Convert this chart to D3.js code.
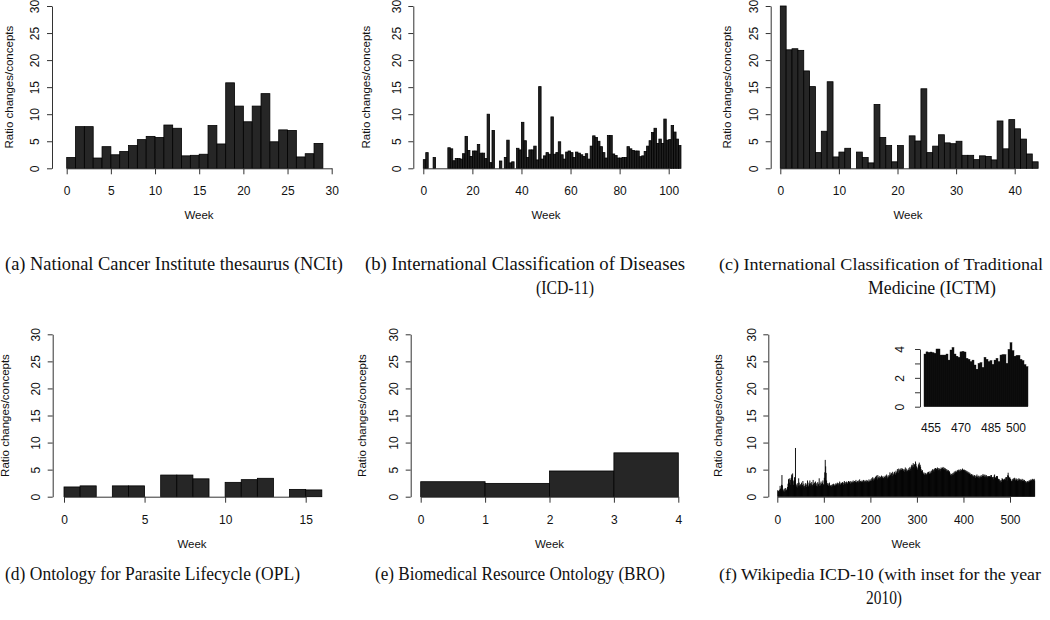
<!DOCTYPE html>
<html><head><meta charset="utf-8">
<script src="https://cdn.jsdelivr.net/npm/d3@7"></script>
<style>body{margin:0;background:#fff} svg{display:block}</style>
</head><body>
<svg id="c" width="1050" height="620"></svg>
<script>
// ---------- DATA ----------
const ncitValues = [2.0,7.7,7.7,1.9,4.0,2.5,3.1,4.2,5.3,5.9,5.7,8.0,7.4,2.3,2.4,2.6,7.9,4.5,15.8,11.5,8.6,11.5,13.8,4.9,7.1,7.0,2.1,2.7,4.6];
const icd11Values = [1.6,2.9,0,0,2.0,0,0,0,0,0,
  3.8,3.6,1.4,1.8,1.8,1.7,2.7,5.9,3.3,2.2,
  3.2,3.2,4.4,2.8,2.8,1.8,10.0,1.05,7.0,0,
  0,1.35,0,2.0,5.2,1.0,1.2,0,3.7,3.4,
  8.5,5.1,2.0,3.4,3.4,4.1,1.55,15.1,1.7,2.3,
  2.9,2.6,9.5,2.6,2.9,4.9,2.5,1.7,3.0,3.2,
  2.9,2.0,3.0,2.8,2.5,2.2,2.7,1.7,4.1,6.0,
  5.7,5.0,4.0,2.9,1.9,6.05,6.05,2.65,2.35,1.9,
  1.9,2.0,2.0,4.0,3.6,3.3,3.2,3.2,2.15,2.3,
  3.1,4.1,5.1,6.6,7.4,4.6,5.4,4.6,9.1,5.2,
  5.3,7.9,6.7,5.4,4.2];
const ictmValues = [30.0,21.9,22.1,21.8,18.0,15.1,2.9,6.85,16.0,2.1,
  3.0,3.7,0,3.0,2.0,1.0,11.8,5.7,4.2,1.2,
  4.2,0,6.0,5.05,14.7,2.9,4.1,6.2,4.7,4.55,
  5.0,2.4,2.4,1.6,2.3,2.2,1.55,8.75,3.6,9.0,
  7.3,5.4,2.65,1.2];
const oplValues = [1.8,2.0,0,2.0,2.0,0,4.0,4.0,3.3,0,2.65,3.15,3.4,0,1.35,1.25];
const broValues = [2.77,2.46,4.75,8.1];
const insetWeeks = d3.range(452, 504);
const insetValues = [3.65,3.8,3.76,3.79,3.74,3.7,4.0,4.0,3.58,3.58,
  3.58,3.65,3.23,3.93,4.1,3.65,3.5,3.42,3.8,3.83,
  3.79,3.35,3.28,3.12,3.23,2.89,2.6,3.0,3.05,2.72,
  3.42,3.28,3.12,3.19,2.93,3.23,3.35,3.12,3.58,3.6,
  3.6,3.0,3.97,4.43,3.88,3.5,3.55,3.55,3.28,3.19,
  2.91,2.77];
const wikiHead = [
  1.2,1.0,1.1,0.9,1.3,2.0,1.5,1.1,2.2,4.0,
  2.1,1.4,1.0,1.2,1.5,0.9,1.1,1.6,1.3,1.2,
  1.5,1.8,2.4,3.2,3.3,2.6,3.4,3.1,2.2,3.5,
  4.1,3.9,4.3,3.0,2.2,2.8,3.6,3.1,9.0,2.4,
  1.9,2.2,1.7,2.5,2.0,3.4,2.6,2.1,1.8,2.3,
  2.0,2.6,1.6,2.2,2.9,1.9,2.4,2.0,1.7,2.1,
  2.5,2.2,1.8,2.4,3.0,2.1,1.9,2.6,2.3,3.0,
  2.5,2.0,2.3,2.7,1.9,2.2,3.1,2.4,2.0,2.6,
  2.1,2.8,2.3,2.0,2.5,1.9,2.7,2.2,2.4,3.4,
  2.0,2.5,2.1,2.8,2.4,2.0,2.6,3.0,2.3,2.2,
  3.5,4.5,6.8,5.6,4.4,3.0,2.5,2.2,2.5,2.0,
  2.3,2.6,1.9,2.1,2.0,2.2,1.8,2.0,2.3,2.1,
  2.4,2.2,2.0,2.3,2.1,2.5,2.3,2.2,2.6,2.4,
  2.1,2.5,2.3,2.8,2.4,2.2,2.6,2.5,2.3,2.7,
  2.5,2.2,2.6,2.9,2.4,2.7,2.3,2.5,2.8,2.6,
  2.4,2.7,2.9,2.5,2.8,2.6,2.4,2.9,2.7,2.5,
  2.8,2.6,3.0,2.7,2.5,2.9,2.6,2.8,3.1,2.7,
  2.5,2.9,2.7,3.0,2.6,2.8,3.2,2.7,2.9,2.6,
  2.8,3.0,2.7,2.9,3.1,2.6,2.8,3.0,2.7,2.9,
  3.1,2.8,2.6,3.0,2.9,2.7,3.2,2.8,3.0,2.9,
  3.2,2.9,3.4,3.1,3.6,3.3,3.0,3.5,3.2,3.4,
  3.7,3.3,3.9,3.5,3.2,4.0,3.6,3.4,3.8,3.5,
  3.3,3.7,3.5,3.9,3.4,3.6,3.8,3.5,3.3,3.7,
  3.6,3.9,3.5,3.8,4.1,3.7,3.4,3.9,3.6,4.0,
  3.8,4.5,4.1,3.9,4.4,4.2,3.8,4.6,4.3,4.0,
  4.2,4.6,4.4,4.1,4.8,4.5,4.3,5.1,4.7,4.4,
  5.2,5.0,4.7,5.1,4.9,5.3,5.0,4.8,5.2,5.0,
  4.8,5.1,4.6,5.0,5.4,4.9,5.2,4.7,5.0,4.8,
  4.6,5.0,5.3,4.9,5.5,5.2,4.8,5.6,5.9,5.4,
  5.8,6.2,5.5,5.9,6.0,5.3,6.5,6.1,5.6,5.2,
  5.0,5.4,5.8,6.0,6.3,5.7,5.9,5.5,5.1,4.8,
  4.6,4.9,4.4,4.2,4.5,4.0,4.3,4.1,4.4,4.2,
  4.0,4.3,4.5,4.1,4.6,4.4,4.2,4.7,4.3,4.5,
  4.8,4.4,4.9,5.1,4.7,5.0,4.6,5.2,4.9,5.3,
  5.0,5.2,4.8,5.4,5.1,4.9,5.3,5.0,5.2,4.7,
  5.1,5.4,5.2,4.9,5.3,5.5,5.1,5.4,5.0,5.3,
  5.2,4.9,5.1,4.7,5.0,4.8,4.6,4.9,4.5,4.7,
  4.4,4.1,3.8,4.2,3.9,4.3,4.0,4.4,4.1,4.6,
  4.3,4.7,4.5,4.8,4.6,4.4,4.9,4.7,5.0,4.8,
  4.6,4.9,5.1,4.8,4.7,5.0,4.8,5.2,4.9,5.0,
  4.8,5.0,4.7,4.9,4.6,4.8,4.5,4.7,4.4,4.6,
  4.3,4.5,4.2,4.4,4.1,3.9,4.2,4.0,3.8,4.1,
  3.7,3.9,3.6,4.0,3.8,3.5,3.9,3.7,4.1,3.6,
  3.8,3.5,3.9,3.7,3.4,3.8,3.6,4.0,3.7,3.5,
  3.9,4.2,3.8,4.0,3.7,4.1,3.6,3.9,4.0,3.7,
  3.5,3.8];
const wikiTail = [3.0,3.3,3.1,3.4,3.2,3.5,
  3.2,3.0,3.4,3.1,3.3,2.9,3.2,3.0,3.4,3.1,
  3.3,3.0,3.2,2.8,3.1,3.3,2.9,3.2,3.0,2.8,
  3.1,2.7,2.9,2.6,2.8,2.5,2.7,2.9,2.6,2.8,
  3.0,2.8,3.1,2.9,3.2,3.0,3.1,3.3,3.0,3.2,
  3.1,3.3,3.0];
const wikiValues = wikiHead.concat(insetValues, wikiTail);

const yTicks = [0,5,10,15,20,25,30];
const insetYTicks = [0,1,2,3,4];
const insetLabels = [455,470,485,500];
const captions = [
  {lines:["(a) National Cancer Institute thesaurus (NCIt)"]},
  {lines:["(b) International Classification of Diseases","(ICD-11)"]},
  {lines:["(c) International Classification of Traditional","Medicine (ICTM)"]},
  {lines:["(d) Ontology for Parasite Lifecycle (OPL)"]},
  {lines:["(e) Biomedical Resource Ontology (BRO)"]},
  {lines:["(f) Wikipedia ICD-10 (with inset for the year","2010)"]}
];

// ---------- LAYOUT ----------
const svg = d3.select("#c");
const SANS = "'Liberation Sans', Arial, Helvetica, sans-serif";
const SERIF = "'Liberation Serif', 'Times New Roman', serif";

const panels = [
  {vals:ncitValues, xd:[0,30], xr:[66.7,331.7], xt:d3.range(0,31,5), ax:52, row:0, ylab:9, fill:"#262626", wk:199},
  {vals:icd11Values, xd:[0,100], xr:[423.3,668.7], xt:d3.range(0,101,20), ax:413.3, row:0, ylab:366, fill:"#202020", wk:546},
  {vals:ictmValues, xd:[0,40], xr:[780.3,1014.7], xt:d3.range(0,41,10), ax:770.7, row:0, ylab:727, fill:"#262626", wk:908},
  {vals:oplValues, xd:[0,15], xr:[64,305.7], xt:d3.range(0,16,5), ax:52.7, row:1, ylab:5, fill:"#262626", wk:192},
  {vals:broValues, xd:[0,4], xr:[420.7,678.3], xt:d3.range(0,5,1), ax:410.7, row:1, ylab:362, fill:"#262626", wk:549.5},
  {vals:wikiValues, xd:[0,500], xr:[777.3,1010], xt:d3.range(0,501,100), ax:768.3, row:1, ylab:718, fill:"#000", dense:true, wk:906}
];
const rows = [{y0:168.3, y30:6}, {y0:496.7, y30:334.3}];

panels.forEach((p,i) => {
  const r = rows[p.row];
  const x = d3.scaleLinear().domain(p.xd).range(p.xr);
  const y = d3.scaleLinear().domain([0,30]).range([r.y0, r.y30]);
  const g = svg.append("g");

  g.selectAll("rect").data(p.vals.map((v,k)=>({k,v})).filter(d=>d.v>0)).join("rect")
    .attr("x", d => x(d.k))
    .attr("y", d => y(d.v))
    .attr("width", d => p.dense ? (x(d.k+1)-x(d.k)+0.45) : (x(d.k+1)-x(d.k)))
    .attr("height", d => y(0)-y(d.v))
    .attr("fill", p.fill)
    .attr("stroke", p.dense ? "none" : "#000")
    .attr("stroke-width", p.dense ? 0 : 0.8);

  const xa = g.append("g").attr("transform", `translate(0,${r.y0})`)
    .call(d3.axisBottom(x).tickValues(p.xt).tickSize(6).tickSizeOuter(0).tickFormat(d3.format("d")));
  xa.select(".domain").attr("stroke","#333").attr("stroke-width",1);
  xa.selectAll(".tick line").attr("stroke","#333");
  xa.selectAll(".tick text").attr("y",18.5).attr("font-size","12px").attr("font-family",SANS).attr("fill","#111");

  const ya = g.append("g").attr("transform", `translate(${p.ax},0)`)
    .call(d3.axisLeft(y).tickValues(yTicks).tickSize(5).tickSizeOuter(0).tickFormat(d3.format("d")));
  ya.select(".domain").attr("stroke","#333").attr("stroke-width",1);
  ya.selectAll(".tick line").attr("stroke","#333");
  ya.selectAll(".tick text").attr("transform","rotate(-90)").attr("x",0).attr("y",-17).attr("dy","0.35em")
    .attr("text-anchor","middle").attr("font-size","12px").attr("font-family",SANS).attr("fill","#111");

  g.append("text").attr("x", p.wk).attr("y", r.y0+51).attr("text-anchor","middle")
    .attr("font-family",SANS).attr("font-size","11.5px").attr("fill","#111").text("Week");
  const ymid = (r.y0+r.y30)/2;
  g.append("text").attr("transform",`translate(${p.ylab},${ymid}) rotate(-90)`).attr("dy","0.35em")
    .attr("text-anchor","middle").attr("font-family",SANS).attr("font-size","11.5px").attr("fill","#111")
    .text("Ratio changes/concepts");
});

// ---------- INSET ----------
{
  const xi = d3.scaleBand().domain(insetWeeks).range([924,1028]).padding(0);
  const yi = d3.scaleLinear().domain([0,4]).range([406.7,349]);
  const g = svg.append("g");
  g.selectAll("rect").data(insetWeeks.map((w,k)=>({w,v:insetValues[k]}))).join("rect")
    .attr("x", d=>xi(d.w)).attr("y", d=>yi(d.v)).attr("width", xi.bandwidth()).attr("height", d=>yi(0)-yi(d.v))
    .attr("fill","#111").attr("stroke","#000").attr("stroke-width",0.4);
  const ya = g.append("g").attr("transform","translate(920,0)")
    .call(d3.axisLeft(yi).tickValues(insetYTicks).tickSize(5).tickSizeOuter(0).tickFormat(d => d%2===0 ? d : ""));
  ya.select(".domain").attr("stroke","#333");
  ya.selectAll(".tick line").attr("stroke","#333");
  ya.selectAll(".tick text").attr("transform","rotate(-90)").attr("x",0).attr("y",-20).attr("dy","0.35em")
    .attr("text-anchor","middle").attr("font-size","12px").attr("font-family",SANS).attr("fill","#111");
  g.selectAll("text.il").data(insetLabels).join("text").attr("class","il")
    .attr("x", d=>xi(d)+xi.bandwidth()/2 - (d===500?5:0)).attr("y",432).attr("text-anchor","middle")
    .attr("font-family",SANS).attr("font-size","12px").attr("fill","#111").text(d=>d);
}

// ---------- CAPTIONS ----------
// [x start, baseline y, width, font size]
const capLine1 = [[5,270,338,18.5],[365,270,320,18.5],[719,270,324,17.5],[5,580,295,18.5],[375,580,290,18.5],[719,580,322,17.3]];
const capLine2 = [null, [536,294,58,18.5], [868,294,128,18.5], null, null, [866,604,36,18.5]];
captions.forEach((c,i) => {
  c.lines.forEach((t,j) => {
    const [cx,cy,cw,fs] = j===0 ? capLine1[i] : capLine2[i];
    svg.append("text").attr("x",cx).attr("y",cy).attr("text-anchor","start")
      .attr("textLength",cw).attr("lengthAdjust","spacingAndGlyphs")
      .attr("font-family",SERIF).attr("font-size",fs+"px").attr("fill","#111").text(t);
  });
});
</script>
</body></html>
